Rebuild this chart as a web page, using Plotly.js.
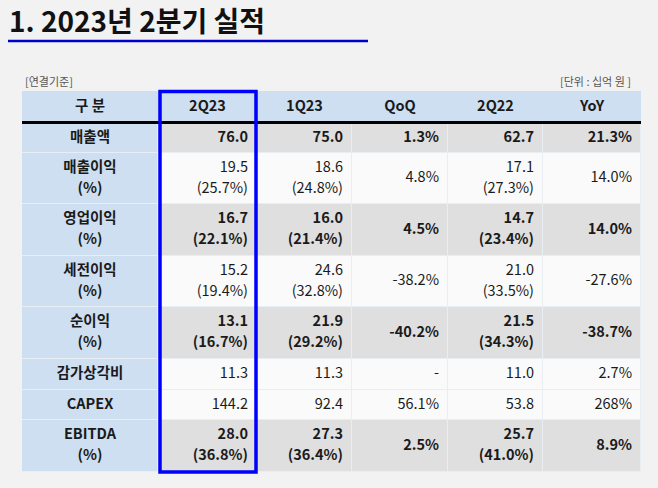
<!DOCTYPE html>
<html>
<head>
<meta charset="utf-8">
<script src="https://cdn.plot.ly/plotly-3.0.1.min.js"></script>
<style>html,body{margin:0;padding:0;background:#f2f2f2;}#chart{width:658px;height:488px;}</style>
</head>
<body>
<div id="chart"></div>
<script>
// ---- data ----
const headers = ["구 분", "2Q23", "1Q23", "QoQ", "2Q22", "YoY"];
const items = ["매출액", "매출이익", "영업이익", "세전이익", "순이익", "감가상각비", "CAPEX", "EBITDA"];
const hasMargin = [false, true, true, true, true, false, false, true];
const boldRows = [true, false, true, false, true, false, false, true];
const v2Q23 = [76.0, 19.5, 16.7, 15.2, 13.1, 11.3, 144.2, 28.0];
const m2Q23 = [null, 25.7, 22.1, 19.4, 16.7, null, null, 36.8];
const v1Q23 = [75.0, 18.6, 16.0, 24.6, 21.9, 11.3, 92.4, 27.3];
const m1Q23 = [null, 24.8, 21.4, 32.8, 29.2, null, null, 36.4];
const qoq = ["1.3%", "4.8%", "4.5%", "-38.2%", "-40.2%", "-", "56.1%", "2.5%"];
const v2Q22 = [62.7, 17.1, 14.7, 21.0, 21.5, 11.0, 53.8, 25.7];
const m2Q22 = [null, 27.3, 23.4, 33.5, 34.3, null, null, 41.0];
const yoy = ["21.3%", "14.0%", "14.0%", "-27.6%", "-38.7%", "2.7%", "268%", "8.9%"];

// ---- styles / geometry ----
const W = 658, H = 488;
const px = x => x / W, py = y => 1 - y / H;
const colW = [136, 99, 95, 96, 95, 98];
const headerH = 32;
const rowH = [30, 51, 52, 51, 52, 31, 30, 52];
const LINE_GAP = 10.5;
const FONT = "Noto Sans CJK KR";
const FS = 14.5;
const TXT = "#1a1a1a";
const blueFill = "#cddff0", grayFill = "#dfdfdf", whiteFill = "#fafafa";

const cum = arr => arr.reduce((a, w) => (a.push(a[a.length - 1] + w), a), [0]);
const xEdges = cum(colW);
const tableW = xEdges[xEdges.length - 1];
const yEdgesBody = cum(rowH).map(y => y + headerH);
const tableH = yEdgesBody[yEdgesBody.length - 1];
const rowMid = rowH.map((h, i) => (yEdgesBody[i] + yEdgesBody[i + 1]) / 2);
const colMid = colW.map((w, i) => (xEdges[i] + xEdges[i + 1]) / 2);
const colRight = colW.map((w, i) => xEdges[i + 1] - 9);

// ---- text builders: each cell -> one or two lines ----
const bold = s => "<b>" + s + "</b>";
const wrap = (s, isBold) => isBold ? bold(s) : s;
const labelLines = items.map((s, i) => hasMargin[i] ? [s, "(%)"] : [s]).map(ls => ls.map(bold));
const valLines = (v, m) => v.map((x, i) => (m[i] !== null ? [x.toFixed(1), "(" + m[i].toFixed(1) + "%)"] : [x.toFixed(1)]).map(s => wrap(s, boldRows[i])));
const pctLines = arr => arr.map((s, i) => [wrap(s, boldRows[i])]);

function lineTrace(cellLines, xPos, pos) {
  const xs = [], ys = [], ts = [];
  cellLines.forEach((ls, i) => {
    if (ls.length === 1) { xs.push(xPos); ys.push(rowMid[i]); ts.push(ls[0]); }
    else {
      xs.push(xPos, xPos); ys.push(rowMid[i] - LINE_GAP, rowMid[i] + LINE_GAP); ts.push(ls[0], ls[1]);
    }
  });
  return {type: "scatter", mode: "text", x: xs, y: ys, text: ts, textposition: pos,
    cliponaxis: false, hoverinfo: "skip", textfont: {family: FONT, size: FS, color: TXT}};
}

// ---- fills: 0 = blue, 1 = gray, 2 = white ----
const bodyZ = boldRows.map(isB => colW.map((w, c) => c === 0 ? 0 : (isB ? 1 : 2)));
const cscale = [[0, blueFill], [0.5, grayFill], [1, whiteFill]];

const traces = [
  {type: "heatmap", x: xEdges, y: [0, headerH], z: [colW.map(() => 0)],
   zmin: 0, zmax: 2, colorscale: cscale, showscale: false, hoverinfo: "skip"},
  {type: "heatmap", x: xEdges, y: yEdgesBody, z: bodyZ, xgap: 1, ygap: 1,
   zmin: 0, zmax: 2, colorscale: cscale, showscale: false, hoverinfo: "skip"},
  {type: "scatter", mode: "text", x: colMid, y: colW.map(() => headerH / 2),
   text: headers.map(bold), textposition: "middle center", cliponaxis: false, hoverinfo: "skip",
   textfont: {family: FONT, size: FS, color: TXT}},
  lineTrace(labelLines, colMid[0], "middle center")
];
const dataCols = [valLines(v2Q23, m2Q23), valLines(v1Q23, m1Q23), pctLines(qoq), valLines(v2Q22, m2Q22), pctLines(yoy)];
dataCols.forEach((cl, k) => traces.push(lineTrace(cl, colRight[k + 1], "middle left")));

const layout = {
  width: W, height: H,
  margin: {l: 0, r: 0, t: 0, b: 0},
  paper_bgcolor: "#f2f2f2",
  plot_bgcolor: "#e9eef3",
  showlegend: false,
  xaxis: {domain: [px(22), px(22 + tableW)], range: [0, tableW], visible: false, fixedrange: true},
  yaxis: {domain: [py(91 + tableH), py(91)], range: [tableH, 0], visible: false, fixedrange: true},
  title: {
    text: "<b>1. 2023년 2분기 실적</b>",
    xref: "container", yref: "container",
    x: px(9), xanchor: "left",
    y: py(22), yanchor: "middle",
    font: {family: FONT, size: 28, color: "#111111"}
  },
  annotations: [
    {text: "[연결기준]", xref: "paper", yref: "paper", x: px(23), y: py(81), xanchor: "left", yanchor: "middle",
     showarrow: false, font: {family: FONT, size: 11, color: "#555555"}},
    {text: "[단위 : 십억 원 ]", xref: "paper", yref: "paper", x: px(633), y: py(81), xanchor: "right", yanchor: "middle",
     showarrow: false, font: {family: FONT, size: 11, color: "#555555"}}
  ],
  shapes: [
    {type: "line", xref: "paper", yref: "paper", x0: px(8), x1: px(368), y0: py(41), y1: py(41),
     line: {color: "#0000cc", width: 2.5}},
    {type: "line", xref: "x", yref: "y", x0: 0, x1: tableW, y0: headerH - 0.5, y1: headerH - 0.5,
     line: {color: "#000000", width: 3}},
    {type: "rect", xref: "paper", yref: "paper", x0: px(160), x1: px(256), y0: py(91.5), y1: py(472),
     line: {color: "#0000ff", width: 3.5}}
  ]
};

Plotly.newPlot("chart", traces, layout, {displayModeBar: false, staticPlot: true});
</script>
</body>
</html>
